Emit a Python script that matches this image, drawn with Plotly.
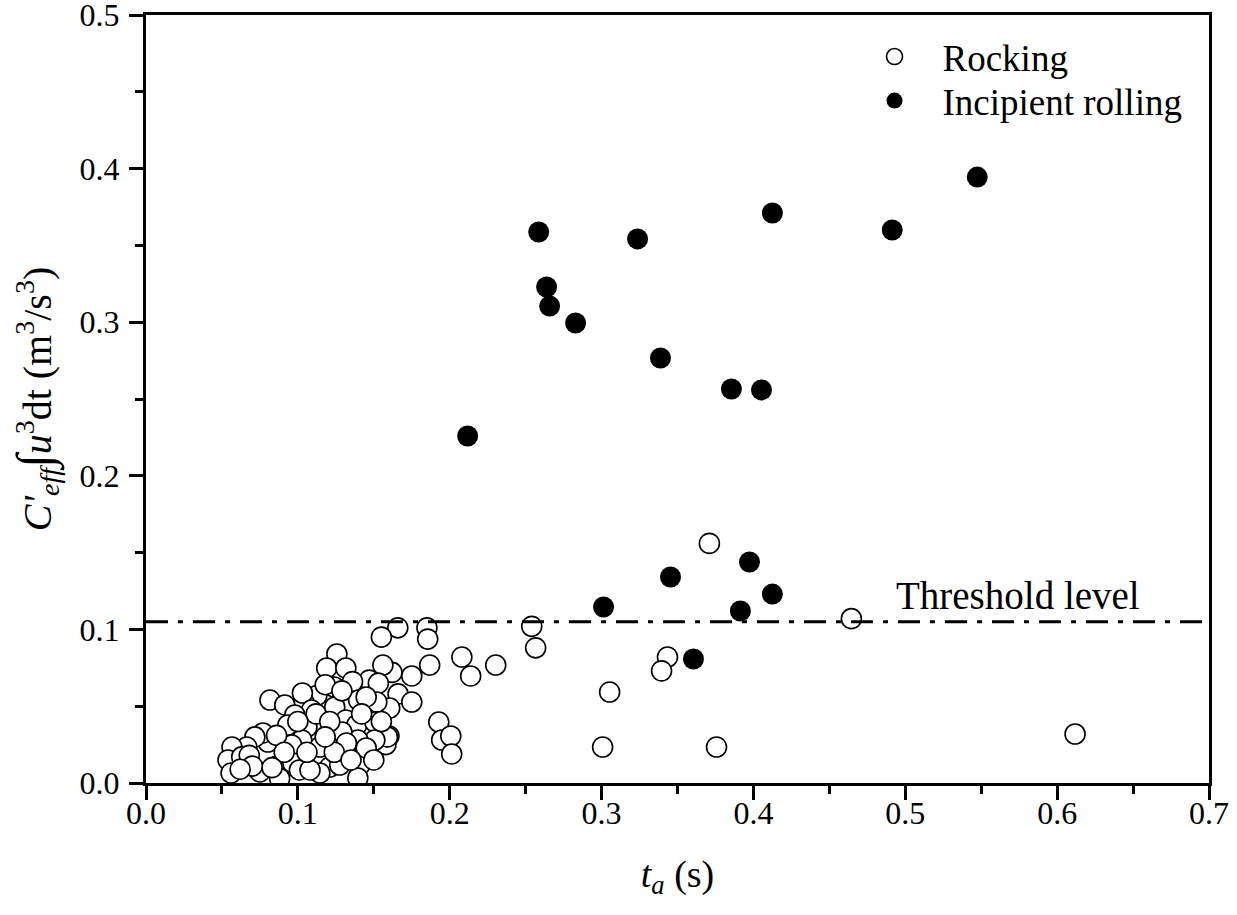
import plotly.graph_objects as go

# Rocking (open circles)
rock_x = [0.371, 0.4645, 0.3434, 0.3395, 0.254, 0.2566, 0.208, 0.2138, 0.2303, 0.3053,
          0.3007, 0.3757, 0.1928, 0.1947, 0.2007, 0.2013, 0.1658, 0.185, 0.1855, 0.1868,
          0.155, 0.162, 0.175, 0.166, 0.175, 0.160, 0.158, 0.6118,
          0.1257, 0.119, 0.1316, 0.156, 0.147, 0.153, 0.136, 0.124, 0.1605, 0.152,
          0.140, 0.1243, 0.1125, 0.104, 0.103, 0.109, 0.0816, 0.0914, 0.098, 0.0934,
          0.1316, 0.1388, 0.1507, 0.159, 0.1507, 0.1395, 0.126, 0.129, 0.1138, 0.106,
          0.1026, 0.096, 0.0803, 0.077, 0.0717, 0.0664, 0.0566, 0.054, 0.063, 0.068,
          0.056, 0.075, 0.0862, 0.0967, 0.088, 0.101, 0.1125, 0.121, 0.1276, 0.1408,
          0.1395, 0.1145, 0.108, 0.1145, 0.132, 0.145,
          0.118, 0.129, 0.145, 0.112, 0.121, 0.100, 0.086, 0.091, 0.106, 0.124,
          0.135, 0.150, 0.083, 0.070, 0.062, 0.118, 0.142, 0.155]
rock_y = [0.156, 0.107, 0.082, 0.073, 0.102, 0.088, 0.082, 0.0697, 0.0768, 0.0592,
          0.0234, 0.0234, 0.0397, 0.028, 0.0306, 0.0189, 0.101, 0.101, 0.0937, 0.0768,
          0.095, 0.072, 0.0697, 0.058, 0.0527, 0.0306, 0.025, 0.0319,
          0.084, 0.0749, 0.0749, 0.0768, 0.067, 0.065, 0.066, 0.0625, 0.0488, 0.0527,
          0.054, 0.0495, 0.057, 0.0527, 0.0586, 0.0475, 0.054, 0.0508, 0.0443, 0.0378,
          0.041, 0.0378, 0.0397, 0.030, 0.028, 0.028, 0.026, 0.0332, 0.0326, 0.0365,
          0.028, 0.0247, 0.0267, 0.0326, 0.030, 0.0234, 0.0234, 0.015, 0.017, 0.018,
          0.0065, 0.0072, 0.011, 0.013, 0.003, 0.0085, 0.0163, 0.0104, 0.0117, 0.0117,
          0.0033, 0.0065, 0.0085, 0.0234, 0.026, 0.0228,
          0.064, 0.060, 0.056, 0.045, 0.040, 0.040, 0.031, 0.020, 0.020, 0.020,
          0.015, 0.015, 0.010, 0.011, 0.009, 0.030, 0.045, 0.040]

# Incipient rolling (filled circles)
roll_x = [0.2586, 0.3237, 0.4125, 0.2638, 0.2658, 0.2829, 0.3388, 0.3855, 0.4053, 0.2118,
          0.5474, 0.4914, 0.3974, 0.3454, 0.4125, 0.3013, 0.3914, 0.3605]
roll_y = [0.3587, 0.3542, 0.3711, 0.3229, 0.3105, 0.2995, 0.2767, 0.2565, 0.2559, 0.2259,
          0.3945, 0.3600, 0.1439, 0.1341, 0.1230, 0.1146, 0.1120, 0.0807]

threshold = 0.105
x_ticks = [0.0, 0.1, 0.2, 0.3, 0.4, 0.5, 0.6, 0.7]
y_ticks = [0.0, 0.1, 0.2, 0.3, 0.4, 0.5]

FONT = "Liberation Serif, Times New Roman, serif"

fig = go.Figure()
fig.add_trace(go.Scatter(
    x=rock_x, y=rock_y, mode="markers", name="Rocking", legend="legend",
    marker=dict(size=20, color="white", line=dict(color="black", width=1.6)),
))
fig.add_trace(go.Scatter(
    x=roll_x, y=roll_y, mode="markers", name="Incipient rolling", legend="legend2",
    marker=dict(size=21, color="black", line=dict(color="black", width=0)),
))

fig.add_shape(type="line", xref="paper", x0=0, x1=1, yref="y", y0=threshold, y1=threshold,
              line=dict(color="black", width=3, dash="22px,10px,5px,10px"), layer="above")
fig.add_annotation(x=0.574, y=threshold, yshift=26, text="Threshold level", showarrow=False,
                   font=dict(family=FONT, size=39, color="black"))

axis_common = dict(
    showline=True, linecolor="black", linewidth=3, mirror=True,
    ticks="outside", ticklen=14, tickwidth=3, tickcolor="black",
    showgrid=False, zeroline=False, tickformat=".1f", ticklabeloverflow="allow",
    tickfont=dict(family=FONT, size=32, color="black"),
)

fig.update_xaxes(range=[0, 0.7], tickvals=x_ticks, ticklabelstandoff=-14,
                 minor=dict(ticks="outside", ticklen=8, tickwidth=3, tickcolor="black", dtick=0.05, showgrid=False),
                 title=dict(text="<i>t</i><sub><i>a</i></sub> (s)", font=dict(family=FONT, size=38, color="black"), standoff=30),
                 **axis_common)
fig.update_yaxes(range=[0, 0.5], tickvals=y_ticks, ticklabelstandoff=3,
                 minor=dict(ticks="outside", ticklen=8, tickwidth=3, tickcolor="black", dtick=0.05, showgrid=False),
                 title=dict(text="<i>C'</i><sub><i>eff</i></sub><span style=\"font-size:50px\">∫</span><i>u</i><sup>3</sup>dt (m<sup>3</sup>/s<sup>3</sup>)",
                            font=dict(family=FONT, size=40, color="black"), standoff=16),
                 **axis_common)

leg_common = dict(xanchor="left", yanchor="middle", bgcolor="rgba(0,0,0,0)",
                  font=dict(family=FONT, size=37, color="black"), itemwidth=86)

fig.update_layout(
    width=1237, height=915,
    margin=dict(l=146, r=28, t=15, b=132, autoexpand=False),
    paper_bgcolor="white", plot_bgcolor="white",
    showlegend=True,
    legend=dict(x=0.659, y=0.9453, **leg_common),
    legend2=dict(x=0.659, y=0.888, **leg_common),
)

# remove the browser's default 8px body margin so the figure sits at the page origin
fig.write_html("out.html", config={"displayModeBar": False},
               post_script="document.body.style.margin='0px';")
